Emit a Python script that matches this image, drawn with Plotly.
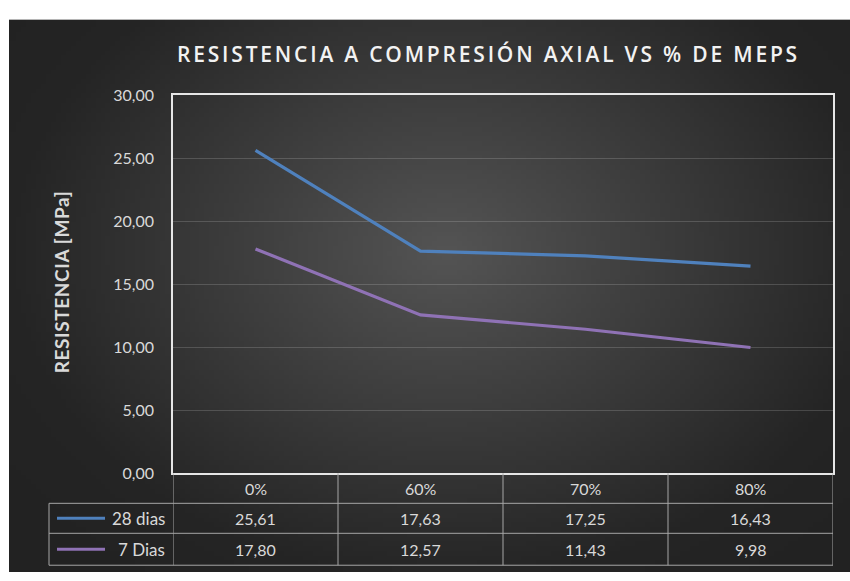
import base64
import struct
import zlib

import plotly.graph_objects as go

# ---------------- data ----------------
categories = ["0%", "60%", "70%", "80%"]
series_names = ["28 dias", "7 Dias"]
dias28 = [25.61, 17.63, 17.25, 16.43]
dias7 = [17.80, 12.57, 11.43, 9.98]
y_ticks = [0, 5, 10, 15, 20, 25, 30]

# ---------------- style ----------------
W, H = 850, 581
COL28 = "#4f81bd"
COL7 = "#8f72b5"
TXT = "#d9d9d9"
FONT = "Lato"
TABLE_LINE = "#a6a6a6"


def px(x):
    return x / W


def py(y):
    return 1 - y / H


# background radial gradient (style only) as a small PNG
def make_png(w, h):
    rows = []
    cx, cy = 0.52, 0.42
    for j in range(h):
        row = bytearray([0])
        for i in range(w):
            u = (i + 0.5) / w - cx
            v = (j + 0.5) / h - cy
            d = ((u / 0.52) ** 2 + (v / 0.60) ** 2) ** 0.5
            d = min(d, 1.2)
            c = int(round(84 - 48 * min(d, 1.0) - 8 * max(d - 1.0, 0)))
            row += bytes([c, c, c])
        rows.append(bytes(row))
    raw = b"".join(rows)

    def chunk(tag, data):
        return (struct.pack(">I", len(data)) + tag + data
                + struct.pack(">I", zlib.crc32(tag + data) & 0xFFFFFFFF))

    png = b"\x89PNG\r\n\x1a\n"
    png += chunk(b"IHDR", struct.pack(">IIBBBBB", w, h, 8, 2, 0, 0, 0))
    png += chunk(b"IDAT", zlib.compress(raw, 9))
    png += chunk(b"IEND", b"")
    return "data:image/png;base64," + base64.b64encode(png).decode()


bg_src = make_png(170, 116)

PL, PR, PT, PB = 173, 833, 88, 479  # plot area in pixels
ROW1, ROW2, ROW3, ROW_END = 479, 510, 541, 574
TBL_LEFT = 49

fig = go.Figure()
fig.add_trace(go.Scatter(x=categories, y=dias28, mode="lines", name=series_names[0],
                         line=dict(color=COL28, width=3.2), showlegend=False))
fig.add_trace(go.Scatter(x=categories, y=dias7, mode="lines", name=series_names[1],
                         line=dict(color=COL7, width=3.2), showlegend=False))

shapes = []
annotations = []

# table horizontal lines
for yy in (ROW2, ROW3, ROW_END):
    shapes.append(dict(type="line", xref="paper", yref="paper", x0=px(TBL_LEFT), x1=px(PR),
                       y0=py(yy), y1=py(yy), line=dict(color=TABLE_LINE, width=1)))
# table vertical lines (category boundaries, via x axis scale)
for k in range(len(categories) + 1):
    shapes.append(dict(type="line", xref="x", yref="paper", x0=k - 0.5, x1=k - 0.5,
                       y0=py(ROW1), y1=py(ROW_END), line=dict(color=TABLE_LINE, width=1)))
shapes.append(dict(type="line", xref="paper", yref="paper", x0=px(TBL_LEFT), x1=px(TBL_LEFT),
                   y0=py(ROW2), y1=py(ROW_END), line=dict(color=TABLE_LINE, width=1)))

# legend keys inside table
for yy, col in ((ROW2 + ROW3) / 2, COL28), ((ROW3 + ROW_END) / 2, COL7):
    shapes.append(dict(type="line", xref="paper", yref="paper", x0=px(57), x1=px(105),
                       y0=py(yy), y1=py(yy), line=dict(color=col, width=3)))

for yy, name in (((ROW2 + ROW3) / 2, series_names[0]), ((ROW3 + ROW_END) / 2, series_names[1])):
    annotations.append(dict(text=name, xref="paper", yref="paper", x=px(167), y=py(yy),
                            xanchor="right", yanchor="middle", showarrow=False,
                            font=dict(family=FONT, size=17, color=TXT)))

# category labels and values
for i, c in enumerate(categories):
    annotations.append(dict(text=c, xref="x", yref="paper", x=i, y=py((ROW1 + ROW2) / 2),
                            xanchor="center", yanchor="middle", showarrow=False,
                            font=dict(family=FONT, size=16, color=TXT)))
    for vals, yy in ((dias28, (ROW2 + ROW3) / 2), (dias7, (ROW3 + ROW_END) / 2)):
        annotations.append(dict(text=f"{vals[i]:.2f}".replace(".", ","), xref="x", yref="paper",
                                x=i, y=py(yy), xanchor="center", yanchor="middle",
                                showarrow=False, font=dict(family=FONT, size=16, color=TXT)))

# y axis title
annotations.append(dict(text='<span style="letter-spacing:0.6px">RESISTENCIA [MPa]</span>',
                        xref="paper", yref="paper", x=px(61),
                        y=py((PT + PB) / 2 - 2), textangle=-90, xanchor="center",
                        yanchor="middle", showarrow=False,
                        font=dict(family=FONT, size=19, color=TXT, weight="bold")))

# chart title
annotations.append(dict(text='<span style="letter-spacing:2.8px">'
                             'RESISTENCIA A COMPRESIÓN AXIAL VS % DE MEPS</span>',
                        xref="paper", yref="paper", x=px(488), y=py(46),
                        xanchor="center", yanchor="middle", showarrow=False,
                        font=dict(family="Open Sans", size=21, color="#f2f2f2", weight=600)))

fig.update_layout(
    width=W, height=H,
    margin=dict(l=0, r=0, t=0, b=0),
    paper_bgcolor="white",
    plot_bgcolor="rgba(0,0,0,0)",
    separators=",.",
    showlegend=False,
    images=[dict(source=bg_src, xref="paper", yref="paper", x=px(9), y=py(10),
                 sizex=1 - px(9), sizey=py(10), sizing="stretch", xanchor="left",
                 yanchor="top", layer="below")],
    xaxis=dict(domain=[px(PL), px(PR)], range=[-0.5, len(categories) - 0.5],
               type="category", showticklabels=False, showgrid=False, zeroline=False,
               showline=True, mirror=True, linecolor="#e6e6e6", linewidth=1.5, ticks=""),
    yaxis=dict(domain=[py(PB), py(PT)], range=[0, 30], tickvals=y_ticks, tickformat=".2f",
               showgrid=True, gridcolor="rgba(255,255,255,0.16)", gridwidth=1,
               zeroline=False, showline=True, mirror=True, linecolor="#e6e6e6", linewidth=1.5,
               ticks="", ticklabelstandoff=14,
               tickfont=dict(family=FONT, size=16, color=TXT)),
    shapes=shapes,
    annotations=annotations,
)

fig.write_html("out.html")
